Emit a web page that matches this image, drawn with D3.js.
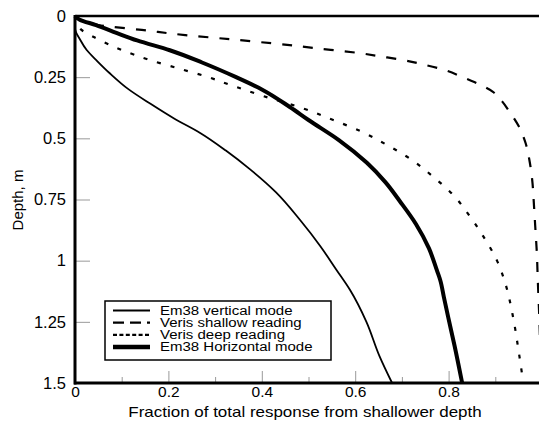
<!DOCTYPE html>
<html><head><meta charset="utf-8">
<script src="https://cdn.jsdelivr.net/npm/d3@7"></script>
<style>
body{margin:0;background:#fff}
svg{display:block}
text{font-family:"Liberation Sans",Arial,Helvetica,sans-serif;fill:#000}
</style>
</head><body>
<svg id="chart" width="539" height="421"></svg>
<script>
// ---- data (depth in m, fraction of total response) ----
const depthTicks = [0, 0.25, 0.5, 0.75, 1, 1.25, 1.5];
const depthTickLabels = ["0", "0.25", "0.5", "0.75", "1", "1.25", "1.5"];
const fracTicks = [0, 0.2, 0.4, 0.6, 0.8];
const fracTickLabels = ["0", "0.2", "0.4", "0.6", "0.8"];
const fracMinorTicks = [0.1, 0.3, 0.5, 0.7, 0.9];
const seriesNames = ["Em38 vertical mode", "Veris shallow reading", "Veris deep reading", "Em38 Horizontal mode"];

// [depth, fraction]
const em38Vertical = [[0,0],[0.05,0.0],[0.1,0.012],[0.139,0.025],[0.185,0.048],[0.235,0.075],[0.3,0.115],[0.357,0.16],[0.42,0.213],[0.478,0.268],[0.55,0.323],[0.627,0.375],[0.72,0.43],[0.834,0.482],[0.94,0.525],[1.038,0.56],[1.12,0.589],[1.25,0.624],[1.39,0.652],[1.5,0.679]];
const verisShallow = [[0,0],[0.037,0.05],[0.057,0.143],[0.078,0.236],[0.095,0.332],[0.112,0.424],[0.132,0.518],[0.152,0.61],[0.166,0.657],[0.18,0.702],[0.2,0.75],[0.22,0.79],[0.25,0.83],[0.27,0.855],[0.31,0.895],[0.35,0.915],[0.39,0.93],[0.45,0.95],[0.52,0.965],[0.6,0.974],[0.67,0.979],[0.78,0.983],[0.875,0.986],[0.97,0.989],[1.08,0.991],[1.22,0.994],[1.5,0.998]];
const verisDeep = [[0,0],[0.03,0.005],[0.057,0.014],[0.085,0.039],[0.112,0.068],[0.136,0.096],[0.159,0.128],[0.18,0.16],[0.214,0.221],[0.248,0.282],[0.286,0.339],[0.327,0.403],[0.38,0.492],[0.425,0.553],[0.473,0.614],[0.527,0.668],[0.588,0.721],[0.657,0.767],[0.73,0.809],[0.82,0.846],[0.9,0.874],[0.997,0.903],[1.09,0.921],[1.23,0.938],[1.37,0.95],[1.5,0.96]];
const em38Horizontal = [[0,0],[0.015,0.01],[0.037,0.045],[0.07,0.09],[0.1,0.133],[0.14,0.203],[0.19,0.272],[0.25,0.345],[0.3,0.4],[0.372,0.46],[0.425,0.5],[0.507,0.565],[0.6,0.625],[0.68,0.665],[0.758,0.696],[0.85,0.73],[0.95,0.758],[1.04,0.775],[1.079,0.782],[1.15,0.79],[1.23,0.799],[1.35,0.813],[1.5,0.829]];

// ---- layout ----
const svg = d3.select("#chart");
const L = 75, T = 16, B = 383, R = 542;
const x = d3.scaleLinear().domain([0, 1]).range([L, R]);
const y = d3.scaleLinear().domain([0, 1.5]).range([T, B]);

// y axis ticks (inward)
const yAxis = d3.axisLeft(y).tickValues(depthTicks).tickFormat((d, i) => depthTickLabels[i]).tickSize(-15).tickPadding(9);
const gy = svg.append("g").attr("transform", `translate(${L},0)`).call(yAxis);
gy.select(".domain").remove();
gy.selectAll(".tick line").attr("stroke", "#999").attr("stroke-width", 1);
gy.selectAll(".tick text").attr("font-size", 16.5).attr("font-family", "Liberation Sans, Arial, sans-serif");

// x axis major ticks
const xAxis = d3.axisBottom(x).tickValues(fracTicks).tickFormat((d, i) => fracTickLabels[i]).tickSize(-12).tickPadding(3);
const gx = svg.append("g").attr("transform", `translate(0,${B})`).call(xAxis);
gx.select(".domain").remove();
gx.selectAll(".tick line").attr("stroke", "#999").attr("stroke-width", 1);
gx.selectAll(".tick text").attr("font-size", 15.5).attr("font-family", "Liberation Sans, Arial, sans-serif");

// x axis minor ticks
const xMinor = d3.axisBottom(x).tickValues(fracMinorTicks).tickFormat("").tickSize(-6);
const gxm = svg.append("g").attr("transform", `translate(0,${B})`).call(xMinor);
gxm.select(".domain").remove();
gxm.selectAll(".tick line").attr("stroke", "#999").attr("stroke-width", 1);

// frame lines
svg.append("line").attr("x1", L).attr("x2", 539).attr("y1", T).attr("y2", T).attr("stroke", "#000").attr("stroke-width", 2.5);
svg.append("line").attr("x1", L - 1).attr("x2", 539).attr("y1", B).attr("y2", B).attr("stroke", "#000").attr("stroke-width", 3);

// curves
const line = d3.line().x(d => x(d[1])).y(d => y(d[0])).curve(d3.curveMonotoneY);
const styles = [
  {data: em38Vertical, w: 1.8, dash: null},
  {data: verisShallow, w: 2.2, dash: "10,11"},
  {data: verisDeep, w: 2.2, dash: "4,10"},
  {data: em38Horizontal, w: 4, dash: null}
];
styles.forEach(s => {
  svg.append("path").datum(s.data).attr("d", line)
    .attr("fill", "none").attr("stroke", "#000").attr("stroke-width", s.w)
    .attr("stroke-dasharray", s.dash).attr("stroke-linejoin", "round");
});

// left axis line on top
svg.append("line").attr("x1", L).attr("x2", L).attr("y1", T - 1).attr("y2", B + 1.5).attr("stroke", "#000").attr("stroke-width", 3);

// axis titles
svg.append("text").attr("transform", "translate(305,416.5) scale(1.17,1)").attr("text-anchor", "middle").attr("font-size", 14.5)
  .text("Fraction of total response from shallower depth");
svg.append("text").attr("transform", "translate(23,200) rotate(-90)").attr("text-anchor", "middle").attr("font-size", 15)
  .text("Depth, m");

// legend
const lg = svg.append("g");
lg.append("rect").attr("x", 105).attr("y", 301).attr("width", 226).attr("height", 59)
  .attr("fill", "#fff").attr("stroke", "#000").attr("stroke-width", 1.5);
const legendDash = [null, "11,6", "4,2.4", null];
const legendW = [1.8, 2.2, 2.2, 4.5];
seriesNames.forEach((name, i) => {
  const cy = 310.5 + i * 12.2;
  lg.append("line").attr("x1", 113).attr("x2", 150).attr("y1", cy).attr("y2", cy)
    .attr("stroke", "#000").attr("stroke-width", legendW[i]).attr("stroke-dasharray", legendDash[i]);
  lg.append("text").attr("transform", `translate(160,${cy}) scale(1.25,1)`).attr("dy", "0.36em").attr("font-size", 12).text(name);
});
</script>
</body></html>
